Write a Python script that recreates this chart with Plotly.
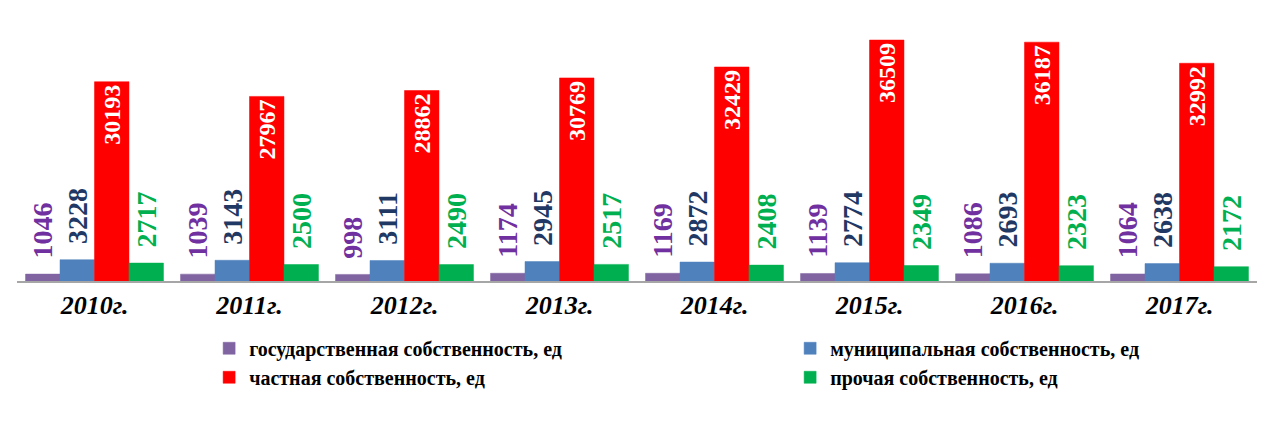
import plotly.graph_objects as go

years = ["2010г.", "2011г.", "2012г.", "2013г.", "2014г.", "2015г.", "2016г.", "2017г."]
gov = [1046, 1039, 998, 1174, 1169, 1139, 1086, 1064]
mun = [3228, 3143, 3111, 2945, 2872, 2774, 2693, 2638]
priv = [30193, 27967, 28862, 30769, 32429, 36509, 36187, 32992]
other = [2717, 2500, 2490, 2517, 2408, 2349, 2323, 2172]

names = [
    "государственная собственность, ед",
    "муниципальная собственность, ед",
    "частная собственность, ед",
    "прочая собственность, ед",
]

FONT = "Liberation Serif, Times New Roman, serif"

# values, name, bar colour, label colour, label position, label size
series = [
    (gov, names[0], "#8064A2", "#7030A0", "outside", 28),
    (mun, names[1], "#4F81BD", "#1F3864", "outside", 28),
    (priv, names[2], "#FF0000", "#FFFFFF", "inside", 24),
    (other, names[3], "#00B050", "#00B050", "outside", 28),
]

fig = go.Figure()
for vals, name, color, tcolor, pos, fsize in series:
    pad = "\u00a0\u2009" if pos == "outside" else ""
    fig.add_trace(go.Bar(
        x=years,
        y=vals,
        name=name,
        marker=dict(color=color, line=dict(color=color, width=0.5)),
        text=[pad + str(v) for v in vals],
        textposition=pos,
        textangle=-90,
        insidetextanchor="end",
        textfont=dict(family=FONT, size=fsize, color=tcolor, weight="bold"),
        constraintext="none",
        cliponaxis=False,
    ))

fig.update_layout(
    width=1265,
    height=426,
    paper_bgcolor="white",
    plot_bgcolor="white",
    barmode="group",
    bargap=0.11,
    bargroupgap=0,
    margin=dict(l=9, r=16, t=9, b=153, autoexpand=False),
    font=dict(family=FONT, color="#000000"),
    showlegend=True,
    legend=dict(
        orientation="h",
        xref="container",
        yref="container",
        x=0.159,
        y=0.247,
        xanchor="left",
        yanchor="top",
        entrywidth=536,
        itemwidth=30,
        tracegroupgap=0,
        font=dict(family=FONT, size=20, color="#000000", weight="bold"),
        bgcolor="rgba(0,0,0,0)",
    ),
    xaxis=dict(
        showgrid=False,
        showline=True,
        linecolor="#A6A6A6",
        linewidth=1.5,
        ticks="",
        tickfont=dict(family=FONT, size=26, color="#000000", weight="bold", style="italic"),
    ),
    yaxis=dict(
        range=[0, 40000],
        showgrid=False,
        showticklabels=False,
        zeroline=False,
        showline=False,
    ),
)

fig.write_html("out.html")
